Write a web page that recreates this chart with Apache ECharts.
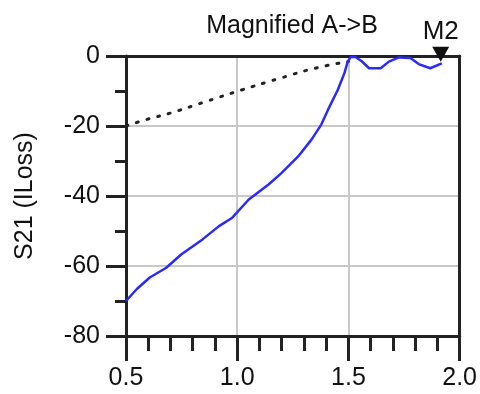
<!DOCTYPE html>
<html>
<head>
<meta charset="utf-8" />
<title>S21</title>
<script src="https://cdn.jsdelivr.net/npm/echarts@6/dist/echarts.min.js"></script>
<style>
  html, body { margin: 0; padding: 0; background: #fff; }
  #chart { width: 480px; height: 394px; }
</style>
</head>
<body>
<div id="chart"></div>
<script>
// 数据（从图上读出来的）
var freqBlue = [0.5, 0.55, 0.607, 0.681, 0.748, 0.844, 0.918, 0.978, 1.052, 1.141, 1.2, 1.274, 1.334, 1.378, 1.408, 1.452, 1.482, 1.497, 1.51, 1.53, 1.56, 1.593, 1.645, 1.682, 1.727, 1.779, 1.816, 1.868, 1.92];
var s21Blue = [-70, -66.5, -63.3, -60.5, -56.7, -52.4, -48.6, -46.2, -41, -36.7, -33.4, -28.7, -23.9, -19.6, -15.4, -9.7, -4.9, -1.6, -0.3, -0.2, -1.5, -3.5, -3.5, -1.6, -0.4, -0.6, -2.3, -3.5, -2.1];
var freqDot = [0.5, 0.6, 0.7, 0.86, 1.02, 1.19, 1.35, 1.5];
var s21Dot = [-20, -18, -16.3, -13, -9.7, -6.4, -3.5, -1.6];
var xTicks = [0.5, 1.0, 1.5, 2.0];
var yTicks = [0, -20, -40, -60, -80];
var markerM2 = [1.915, -1.8];

function pairs(xs, ys) {
  var out = [];
  for (var i = 0; i < xs.length; i++) out.push([xs[i], ys[i]]);
  return out;
}

var axisColor = '#222';
var font = 'Liberation Sans, Arial, sans-serif';

var chart = echarts.init(document.getElementById('chart'));
var option = {
  animation: false,
  backgroundColor: '#fff',
  title: {
    text: 'Magnified A->B',
    left: 287, top: 9, textAlign: 'center',
    textStyle: { fontSize: 25, fontWeight: 'normal', color: '#111', fontFamily: font }
  },
  grid: { left: 126, right: 17, top: 56, bottom: 58 },
  xAxis: [{
    type: 'value', position: 'bottom',
    min: xTicks[0], max: xTicks[xTicks.length - 1], interval: 0.5,
    axisLine: { onZero: false, lineStyle: { color: axisColor, width: 3 } },
    axisTick: { show: true, length: 25, lineStyle: { color: axisColor, width: 3 } },
    minorTick: { show: true, splitNumber: 5, length: 15, lineStyle: { color: axisColor, width: 3 } },
    axisLabel: { margin: 30, fontSize: 25, color: '#111', fontFamily: font,
      formatter: function (v) { return v.toFixed(1); } },
    splitLine: { show: true, lineStyle: { color: '#c8c8c8', width: 2 } }
  }, {
    type: 'value', position: 'top',
    min: xTicks[0], max: xTicks[xTicks.length - 1],
    axisLine: { show: true, onZero: false, lineStyle: { color: axisColor, width: 3 } },
    axisTick: { show: false }, minorTick: { show: false },
    axisLabel: { show: false }, splitLine: { show: false }
  }],
  yAxis: [{
    type: 'value', position: 'left',
    min: yTicks[yTicks.length - 1], max: yTicks[0], interval: 20,
    name: 'S21 (ILoss)', nameLocation: 'middle', nameGap: 88, nameRotate: 90,
    nameTextStyle: { fontSize: 25, color: '#111', fontFamily: font },
    axisLine: { show: true, onZero: false, lineStyle: { color: axisColor, width: 3 } },
    axisTick: { show: true, length: 20, lineStyle: { color: axisColor, width: 3 } },
    minorTick: { show: true, splitNumber: 2, length: 11, lineStyle: { color: axisColor, width: 3 } },
    axisLabel: { margin: 26, fontSize: 25, color: '#111', fontFamily: font },
    splitLine: { show: true, lineStyle: { color: '#c8c8c8', width: 2 } }
  }, {
    type: 'value', position: 'right',
    min: yTicks[yTicks.length - 1], max: yTicks[0],
    axisLine: { show: true, onZero: false, lineStyle: { color: axisColor, width: 3 } },
    axisTick: { show: false }, minorTick: { show: false },
    axisLabel: { show: false }, splitLine: { show: false }
  }],
  series: [{
    name: 'ref',
    type: 'line',
    data: pairs(freqDot, s21Dot),
    showSymbol: false,
    smooth: true,
    lineStyle: { color: '#222', width: 3, type: [2, 9], cap: 'round' }
  }, {
    name: 'S21',
    type: 'line',
    data: pairs(freqBlue, s21Blue),
    showSymbol: false,
    lineStyle: { color: '#2a2aff', width: 2.5 },
    markPoint: {
      symbol: 'triangle', symbolRotate: 180, symbolSize: [17, 15], symbolOffset: [0, -8],
      itemStyle: { color: '#111' },
      label: { show: true, position: 'top', distance: 2, formatter: 'M2',
        fontSize: 26, color: '#111', fontFamily: font },
      data: [{ coord: markerM2 }]
    }
  }]
};
chart.setOption(option);
</script>
</body>
</html>
